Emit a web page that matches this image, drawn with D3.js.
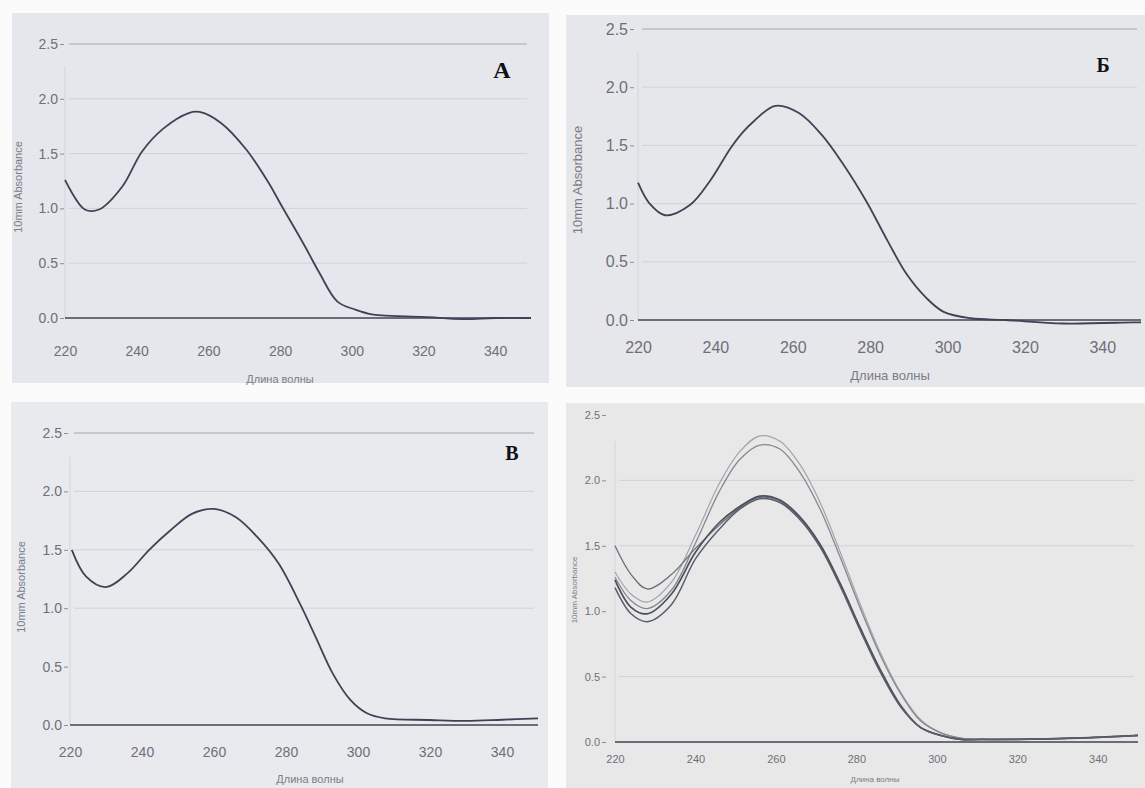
<!DOCTYPE html>
<html>
<head>
<meta charset="utf-8">
<script src="https://cdn.jsdelivr.net/npm/d3@7"></script>
<style>
  body { margin: 0; background: #fff; }
  svg { display: block; }
</style>
</head>
<body>
<div id="chart"></div>
<script>
// ---- data ----
const xTicks = [220, 240, 260, 280, 300, 320, 340];
const yTicks = [0, 0.5, 1.0, 1.5, 2.0, 2.5];

// panel A
const waveA = [220, 225.5, 229.5, 236, 241.5, 247.5, 254.5, 257.5, 263.5, 270.5, 276.5, 280.5, 287, 291, 296, 301, 306, 311, 320, 331, 340, 350];
const absA  = [1.26, 0.99, 0.99, 1.20, 1.52, 1.73, 1.87, 1.88, 1.78, 1.54, 1.25, 1.02, 0.65, 0.41, 0.15, 0.076, 0.03, 0.02, 0.01, -0.01, 0, 0];

// panel Б
const waveB = [220, 223, 227, 233.5, 238.5, 244, 247, 250, 255.5, 261.5, 267.5, 273, 279, 284.5, 289.5, 294.5, 299, 306, 315, 330, 348, 350];
const absB  = [1.18, 1.0, 0.90, 0.99, 1.19, 1.48, 1.61, 1.71, 1.84, 1.78, 1.59, 1.34, 1.02, 0.68, 0.39, 0.19, 0.07, 0.015, 0, -0.03, -0.02, -0.02];

// panel В
const waveC = [220.5, 224.5, 230, 236, 242, 248, 254, 260, 266, 272, 278, 284, 288, 293, 298, 302.5, 307.5, 320, 330, 340, 350];
const absC  = [1.50, 1.27, 1.18, 1.30, 1.50, 1.67, 1.81, 1.85, 1.78, 1.61, 1.38, 1.03, 0.77, 0.44, 0.21, 0.10, 0.057, 0.043, 0.035, 0.045, 0.057];

// panel Г (overlay of five spectra)
const waveD = [220, 224, 228, 234, 240, 246, 251, 256, 261, 266, 271, 276, 281, 286, 291, 296, 301, 306, 311, 320, 335, 350];
const absD1 = [1.30, 1.13, 1.07, 1.22, 1.58, 1.98, 2.22, 2.34, 2.30, 2.12, 1.83, 1.45, 1.05, 0.68, 0.38, 0.17, 0.07, 0.03, 0.02, 0.02, 0.03, 0.05];
const absD2 = [1.26, 1.08, 1.02, 1.16, 1.52, 1.92, 2.16, 2.27, 2.24, 2.06, 1.78, 1.41, 1.02, 0.66, 0.37, 0.16, 0.07, 0.03, 0.02, 0.02, 0.03, 0.05];
const absD3 = [1.50, 1.28, 1.17, 1.28, 1.48, 1.66, 1.79, 1.87, 1.84, 1.71, 1.50, 1.20, 0.86, 0.54, 0.27, 0.11, 0.05, 0.02, 0.02, 0.02, 0.03, 0.05];
const absD4 = [1.24, 1.03, 0.98, 1.13, 1.45, 1.68, 1.80, 1.88, 1.85, 1.72, 1.51, 1.21, 0.87, 0.55, 0.28, 0.11, 0.05, 0.02, 0.02, 0.02, 0.03, 0.05];
const absD5 = [1.18, 0.98, 0.92, 1.05, 1.40, 1.63, 1.78, 1.86, 1.83, 1.70, 1.49, 1.19, 0.85, 0.53, 0.27, 0.11, 0.05, 0.02, 0.02, 0.02, 0.03, 0.05];

const xTitle = "Длина волны";
const yTitle = "10mm Absorbance";

// ---- layout of the four panels (pixel frames of the scan) ----
const panels = [
  {letter: "A", bg: [12, 13, 549, 383], bgFill: "#e5e7ed", x: [65, 531], y: [318, 44], grid: [0.5, 1.0, 1.5, 2.0, 2.5],
   tickY: 357, tickSize: 14, yLabX: 58, titleX: 280, titleY: 383, yTitleX: 18, yTitleY: 187, letterXY: [502, 78],
   series: [{w: waveA, a: absA, color: "#3c4354", width: 1.8}]},
  {letter: "Б", bg: [566, 15, 1145, 387], bgFill: "#e6e7eb", x: [638, 1141], y: [320, 29], grid: [0.5, 1.0, 1.5, 2.0, 2.5],
   tickY: 354, tickSize: 16, yLabX: 628, titleX: 890, titleY: 380, yTitleX: 577, yTitleY: 180, letterXY: [1103, 72],
   series: [{w: waveB, a: absB, color: "#3c4354", width: 1.8}]},
  {letter: "В", bg: [11, 402, 548, 788], bgFill: "#e8eaee", x: [70, 538], y: [725, 433], grid: [1.0, 1.5, 2.0, 2.5],
   tickY: 758, tickSize: 14, yLabX: 62, titleX: 310, titleY: 783, yTitleX: 21, yTitleY: 587, letterXY: [512, 460],
   series: [{w: waveC, a: absC, color: "#3c4354", width: 1.8}]},
  {letter: "", bg: [566, 403, 1145, 788], bgFill: "#e8e8e9", x: [615, 1138], y: [742, 415], grid: [0.5, 1.5, 2.0],
   tickY: 764, tickSize: 11, yLabX: 600, titleX: 875, titleY: 782, yTitleX: 574, yTitleY: 590, letterXY: [0, 0],
   series: [
     {w: waveD, a: absD1, color: "#a2a4aa", width: 1.2},
     {w: waveD, a: absD2, color: "#85888f", width: 1.3},
     {w: waveD, a: absD3, color: "#6a6e78", width: 1.3},
     {w: waveD, a: absD4, color: "#4b505d", width: 1.7},
     {w: waveD, a: absD5, color: "#5a5e69", width: 1.5}
   ]}
];

const svg = d3.select("#chart").append("svg")
    .attr("width", 1145)
    .attr("height", 788);

svg.append("rect").attr("width", 1145).attr("height", 788).attr("fill", "#fbfbfc");

panels.forEach(p => {
    let g = svg.append("g");

    g.append("rect")
        .attr("x", p.bg[0]).attr("y", p.bg[1])
        .attr("width", p.bg[2] - p.bg[0]).attr("height", p.bg[3] - p.bg[1])
        .attr("fill", p.bgFill);

    let xScale = d3.scaleLinear().domain([220, 350]).range(p.x);
    let yScale = d3.scaleLinear().domain([0, 2.5]).range(p.y);

    // faint gridlines
    g.selectAll(".grid")
        .data(p.grid)
        .enter().append("line")
        .attr("x1", xScale(220) + 4)
        .attr("x2", xScale(350) - 4)
        .attr("y1", d => yScale(d))
        .attr("y2", d => yScale(d))
        .attr("stroke", d => d === 2.5 ? "#a4a7ae" : "#d0d2d8")
        .attr("stroke-width", 1);

    // left frame line
    g.append("line")
        .attr("x1", xScale(220)).attr("x2", xScale(220))
        .attr("y1", yScale(2.3)).attr("y2", yScale(0))
        .attr("stroke", "#d3d5da");

    // y axis labels
    let yAxis = d3.axisLeft(yScale)
        .tickValues(yTicks)
        .tickSize(4)
        .tickPadding(2)
        .tickFormat(d3.format(".1f"));
    let ya = g.append("g")
        .attr("transform", `translate(${p.yLabX + 6},0)`)
        .call(yAxis);
    ya.select(".domain").remove();
    ya.selectAll("line").attr("stroke", "#8c8f96");
    ya.selectAll("text")
        .attr("fill", "#6d7078")
        .style("font-family", "'Liberation Sans', Arial, sans-serif")
        .style("font-size", p.tickSize + "px");

    // x axis labels
    let xAxis = d3.axisBottom(xScale)
        .tickValues(xTicks)
        .tickSize(0)
        .tickPadding(0);
    let xa = g.append("g")
        .attr("transform", `translate(0,${p.tickY - p.tickSize * 0.8})`)
        .call(xAxis);
    xa.select(".domain").remove();
    xa.selectAll("text")
        .attr("fill", "#6d7078")
        .style("font-family", "'Liberation Sans', Arial, sans-serif")
        .style("font-size", p.tickSize + "px");

    // zero line
    g.append("line")
        .attr("x1", xScale(220)).attr("x2", xScale(350))
        .attr("y1", yScale(0)).attr("y2", yScale(0))
        .attr("stroke", "#3f4452")
        .attr("stroke-width", 1.4);

    // spectra
    let line = d3.line()
        .x(d => xScale(d[0]))
        .y(d => yScale(d[1]))
        .curve(d3.curveCatmullRom.alpha(0.5));

    p.series.forEach(s => {
        g.append("path")
            .datum(s.w.map((w, i) => [w, s.a[i]]))
            .attr("d", line)
            .attr("fill", "none")
            .attr("stroke", s.color)
            .attr("stroke-width", s.width)
            .attr("stroke-linejoin", "round");
    });

    // axis titles
    g.append("text")
        .attr("x", p.titleX).attr("y", p.titleY)
        .attr("text-anchor", "middle")
        .attr("fill", "#7a7d85")
        .style("font-family", "'Liberation Sans', Arial, sans-serif")
        .style("font-size", (p.tickSize - 3) + "px")
        .text(xTitle);

    g.append("text")
        .attr("transform", `translate(${p.yTitleX},${p.yTitleY}) rotate(-90)`)
        .attr("text-anchor", "middle")
        .attr("dy", "0.35em")
        .attr("fill", "#7a7d85")
        .style("font-family", "'Liberation Sans', Arial, sans-serif")
        .style("font-size", (p.tickSize - 3) + "px")
        .text(yTitle);

    // panel letter
    if (p.letter) {
        g.append("text")
            .attr("x", p.letterXY[0]).attr("y", p.letterXY[1])
            .attr("text-anchor", "middle")
            .attr("fill", "#111")
            .style("font-family", "'Liberation Serif', 'Times New Roman', serif")
            .style("font-weight", "bold")
            .style("font-size", p.letter === "A" ? "24px" : "20px")
            .text(p.letter);
    }
});
</script>
</body>
</html>
